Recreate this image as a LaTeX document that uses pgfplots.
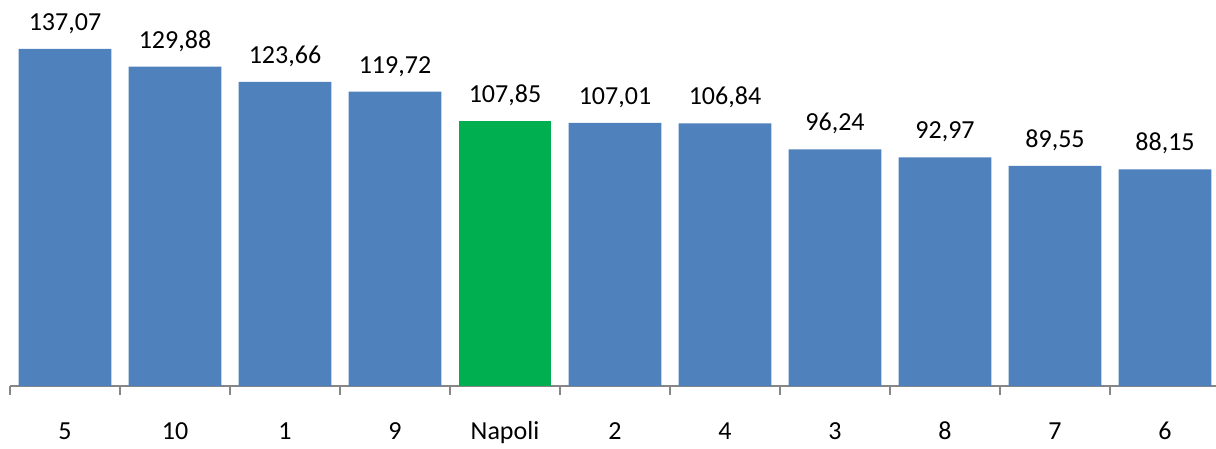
\documentclass[border=0pt]{standalone}
\usepackage{pgfplots}
\pgfplotsset{compat=1.18}
\usepackage{fontspec}
\setmainfont{Carlito}
\definecolor{barblue}{HTML}{4F81BD}
\definecolor{bargreen}{HTML}{00B050}
\definecolor{axisgray}{HTML}{868686}
\newcommand{\bigf}{\fontsize{26pt}{30pt}\selectfont}
\begin{document}
\begin{tikzpicture}
\begin{axis}[
  scale only axis,
  width=1210pt, height=386pt,
  xmin=-0.5, xmax=10.5,
  ymin=0, ymax=157,
  axis x line=bottom,
  axis y line=none,
  x axis line style={-, draw=axisgray, line width=1.6pt},
  xtick={0,...,10},
  xticklabels={5,10,1,9,Napoli,2,4,3,8,7,6},
  major tick length=0pt,
  xticklabel style={anchor=base, yshift=-53pt, inner sep=0pt, font=\bigf},
  extra x ticks={-0.5,0.5,1.5,2.5,3.5,4.5,5.5,6.5,7.5,8.5,9.5,10.5},
  extra x tick labels={},
  extra x tick style={tick align=outside, major tick length=9pt, tick style={draw=axisgray, line width=1.3pt}},
  clip=false,
  nodes near coords={\bigf\pgfplotspointmeta},
  nodes near coords style={anchor=base, yshift=18.5pt, text=black, inner sep=0pt},
]
\addplot[ybar, bar width=0.845, bar shift=0pt, fill=barblue, draw=none,
  point meta=explicit symbolic]
coordinates {
(0,137.07) [137,07]
(1,129.88) [129,88]
(2,123.66) [123,66]
(3,119.72) [119,72]
(5,107.01) [107,01]
(6,106.84) [106,84]
(7,96.24) [96,24]
(8,92.97) [92,97]
(9,89.55) [89,55]
(10,88.15) [88,15]
};
\addplot[ybar, bar width=0.845, bar shift=0pt, fill=bargreen, draw=none,
  point meta=explicit symbolic]
coordinates {
(4,107.85) [107,85]
};
\end{axis}
\pgfresetboundingbox
\path[use as bounding box] (-10pt,-62pt) rectangle (1206pt,386pt);
\end{tikzpicture}
\end{document}
